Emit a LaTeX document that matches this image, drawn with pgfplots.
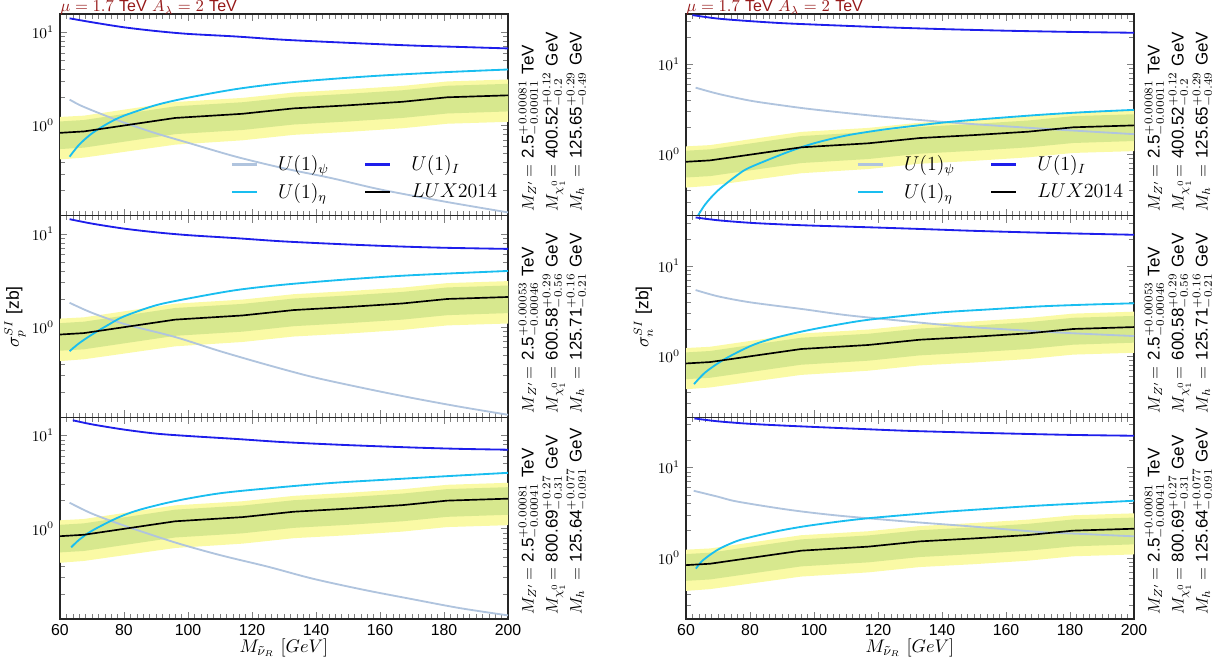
\documentclass[border=0pt]{standalone}
\usepackage{fontspec}
\setsansfont{Liberation Sans}
\usepackage{pgfplots}
\pgfplotsset{compat=1.18}

\definecolor{cpsi}{RGB}{176,196,222}
\definecolor{ceta}{RGB}{25,190,240}
\definecolor{cI}{RGB}{30,30,235}
\definecolor{cyel}{RGB}{250,250,165}
\definecolor{cgrn}{RGB}{215,232,142}
\definecolor{ctitle}{RGB}{150,25,25}

\pgfplotsset{
  every axis/.append style={
    scale only axis, width=268.8pt, height=121pt,
    xmin=60, xmax=200,
    xtick={60,80,...,200}, minor x tick num=9,
    tick align=inside, clip mode=individual,
    axis line style={line width=0.8pt, black!85},
    yticklabel style={font=\fontsize{9}{10}\selectfont},
    xticklabel style={font=\sffamily\fontsize{9.5}{11}\selectfont, /pgf/number format/assume math mode=true},
    anchor=south west,
  },
  mypsi/.style={cpsi, line width=1.1pt, smooth},
  myeta/.style={ceta, line width=1.1pt, smooth},
  myI/.style={cI, line width=1.1pt, smooth},
}

\newcommand{\bands}{%
  \addplot[fill=cyel, draw=none, forget plot] coordinates {(60,1.23)(67.5,1.27)(96,1.78)(117,1.97)(133,2.25)(150,2.43)(167,2.65)(181,2.96)(200,3.11)(200,1.09)(181,1.04)(167,0.93)(150,0.85)(133,0.79)(117,0.69)(96,0.62)(67.5,0.45)(60,0.43)};
  \addplot[fill=cgrn, draw=none, forget plot] coordinates {(60,1.10)(67.5,1.14)(96,1.60)(117,1.77)(133,2.02)(150,2.18)(167,2.38)(181,2.66)(200,2.79)(200,1.41)(181,1.34)(167,1.20)(150,1.10)(133,1.02)(117,0.891)(96,0.804)(67.5,0.576)(60,0.556)};
}
\newcommand{\lux}{\addplot[black, line width=1.0pt] coordinates {(60,0.83)(67.5,0.86)(96,1.2)(117,1.33)(133,1.52)(150,1.64)(167,1.79)(181,2.0)(200,2.1)};}

\newcommand{\masses}[4]{%
  \node[rotate=90, anchor=base west, inner sep=0pt, font=\fontsize{10.2}{12}\selectfont] at ([xshift=15.3pt,yshift=2.4pt]#1.south east)
    {\makebox[2.0em][l]{$M_{Z'}$}$=\ $\textsf{2.5}#2 \textsf{TeV}};
  \node[rotate=90, anchor=base west, inner sep=0pt, font=\fontsize{10.2}{12}\selectfont] at ([xshift=29.7pt,yshift=2.4pt]#1.south east)
    {\makebox[2.0em][l]{$M_{\chi_1^0}$}$=\ $#3};
  \node[rotate=90, anchor=base west, inner sep=0pt, font=\fontsize{10.2}{12}\selectfont] at ([xshift=44.1pt,yshift=2.4pt]#1.south east)
    {\makebox[2.0em][l]{$M_h$}$=\ $#4};
}

\newcommand{\legopts}{}
\begin{document}
\begin{tikzpicture}
\useasboundingbox (0,0) rectangle (733.2pt,399.6pt);

% ---------------- left column (proton)
\begin{semilogyaxis}[ymin=0.107, ymax=15.7, xticklabels={}, at={(36pt,270.2pt)}, name=LT,
    legend columns=2, legend cell align=left,
    legend image code/.code={\draw[#1, line width=1.4pt] (0pt,0pt) -- (15pt,0pt);},
    legend style={draw=none, fill=none, at={(0.995,0.04)}, anchor=south east,
      font=\fontsize{11.5}{13}\selectfont, row sep=2pt,
      /tikz/every even column/.append style={column sep=19pt},
      /tikz/every odd column/.append style={column sep=10pt}}]
\bands
\addplot[mypsi] coordinates {(63,1.89)(66,1.66)(70,1.45)(75,1.24)(80,1.07)(90,0.82)(100,0.65)(115,0.46)(130,0.345)(145,0.27)(160,0.205)(180,0.152)(200,0.116)};
\addlegendentry{$U(1)_\psi$}
\addplot[myI] coordinates {(63,14.1)(70,12.8)(80,11.3)(90,10.3)(100,9.6)(115,9.0)(130,8.3)(150,7.7)(170,7.2)(185,6.95)(200,6.7)};
\addlegendentry{$U(1)_I$}
\addplot[myeta] coordinates {(63,0.46)(66,0.62)(70,0.82)(75,1.05)(80,1.27)(90,1.65)(100,1.98)(115,2.45)(130,2.85)(145,3.15)(160,3.42)(180,3.72)(200,3.98)};
\addlegendentry{$U(1)_\eta$}
\lux
\addlegendentry{$LUX2014$}
\end{semilogyaxis}

\begin{semilogyaxis}[ymin=0.107, ymax=15.7, xticklabels={}, at={(36pt,149.2pt)}, name=LM]
\bands
\addplot[mypsi] coordinates {(63,1.82)(70,1.42)(80,1.08)(96,0.78)(110,0.55)(125,0.39)(139,0.29)(155,0.22)(170,0.173)(185,0.139)(200,0.114)};
\addplot[myI] coordinates {(63,14.4)(70,12.9)(80,11.4)(90,10.4)(100,9.7)(115,9.0)(130,8.3)(150,7.7)(165,7.35)(180,7.1)(200,6.9)};
\addplot[myeta] coordinates {(63,0.55)(66,0.67)(70,0.83)(75,1.05)(80,1.3)(90,1.71)(100,2.02)(115,2.49)(130,2.85)(150,3.25)(170,3.6)(200,4.0)};
\lux
\end{semilogyaxis}

\begin{semilogyaxis}[ymin=0.107, ymax=15.7, at={(36pt,28.2pt)}, name=LB]
\bands
\addplot[mypsi] coordinates {(63,1.9)(70,1.45)(80,1.08)(96,0.71)(110,0.52)(125,0.39)(139,0.29)(155,0.22)(170,0.175)(185,0.14)(200,0.117)};
\addplot[myI] coordinates {(64,14.6)(70,13.2)(80,11.6)(90,10.5)(100,9.9)(115,9.2)(130,8.5)(150,7.9)(170,7.45)(185,7.2)(200,7.05)};
\addplot[myeta] coordinates {(63.5,0.63)(66,0.76)(70,0.95)(78,1.31)(85,1.6)(96,1.98)(110,2.4)(127,2.75)(145,3.1)(164,3.39)(180,3.65)(200,3.98)};
\lux
\end{semilogyaxis}

% ---------------- right column (neutron)
\begin{semilogyaxis}[ymin=0.21, ymax=36, xticklabels={}, at={(411.6pt,270.2pt)}, name=RT,
    legend columns=2, legend cell align=left,
    legend image code/.code={\draw[#1, line width=1.4pt] (0pt,0pt) -- (15pt,0pt);},
    legend style={draw=none, fill=none, at={(0.995,0.04)}, anchor=south east,
      font=\fontsize{11.5}{13}\selectfont, row sep=2pt,
      /tikz/every even column/.append style={column sep=19pt},
      /tikz/every odd column/.append style={column sep=10pt}}]
\bands
\addplot[mypsi] coordinates {(63,5.5)(70,4.7)(80,3.95)(90,3.5)(100,3.15)(120,2.65)(140,2.3)(160,2.05)(180,1.85)(200,1.68)};
\addlegendentry{$U(1)_\psi$}
\addplot[myI] coordinates {(62,35)(70,32)(80,30)(90,28.5)(100,27.5)(120,25.8)(140,24.5)(160,23.5)(180,22.8)(200,22.3)};
\addlegendentry{$U(1)_I$}
\addplot[myeta] coordinates {(63,0.19)(66,0.28)(70,0.4)(76,0.59)(80,0.72)(92,1.07)(100,1.33)(110,1.62)(120,1.85)(128,2.01)(140,2.25)(150,2.42)(170,2.74)(185,2.95)(200,3.12)};
\addlegendentry{$U(1)_\eta$}
\lux
\addlegendentry{$LUX2014$}
\end{semilogyaxis}

\begin{semilogyaxis}[ymin=0.21, ymax=36, xticklabels={}, at={(411.6pt,149.2pt)}, name=RM]
\bands
\addplot[mypsi] coordinates {(63,5.4)(70,4.6)(80,3.95)(97,3.3)(110,2.85)(128,2.45)(145,2.15)(160,1.98)(180,1.8)(200,1.67)};
\addplot[myI] coordinates {(63,34.4)(70,32)(80,30)(90,28.8)(100,27.9)(118,26.7)(135,25.5)(149,24.5)(165,23.6)(180,22.9)(200,22.1)};
\addplot[myeta] coordinates {(62.5,0.49)(66,0.66)(71,0.88)(76,1.1)(81.4,1.35)(88,1.6)(97,1.9)(107,2.22)(117.8,2.55)(138.6,3.03)(155,3.3)(170,3.55)(185,3.72)(200,3.85)};
\lux
\end{semilogyaxis}

\begin{semilogyaxis}[ymin=0.21, ymax=36, at={(411.6pt,28.2pt)}, name=RB]
\bands
\addplot[mypsi] coordinates {(62.4,5.53)(70,4.75)(76,4.2)(92,3.41)(107,2.95)(128,2.54)(149,2.23)(170,1.94)(185,1.83)(200,1.73)};
\addplot[myI] coordinates {(62.6,35)(70,32.5)(80,30.5)(92,29)(110,27.2)(128,25.6)(145,24.6)(159,23.9)(180,23.0)(200,22.5)};
\addplot[myeta] coordinates {(63.1,0.76)(65,0.92)(68,1.11)(71,1.29)(76,1.54)(81.3,1.73)(89,1.99)(96.9,2.23)(107,2.5)(117.7,2.76)(138.6,3.19)(155,3.5)(169.8,3.78)(185,4.03)(200,4.29)};
\lux
\end{semilogyaxis}

% titles
\node[anchor=base west, inner sep=0pt, text=ctitle, font=\fontsize{9.6}{11}\selectfont] at ([yshift=1.4pt]LT.north west)
    {$\mu = 1.7$ \textsf{TeV} $A_\lambda = 2$ \textsf{TeV}};
\node[anchor=base west, inner sep=0pt, text=ctitle, font=\fontsize{9.6}{11}\selectfont] at ([yshift=1.4pt]RT.north west)
    {$\mu = 1.7$ \textsf{TeV} $A_\lambda = 2$ \textsf{TeV}};

% y labels
\node[rotate=90, font=\fontsize{10.5}{12}\selectfont] at (9pt,209.4pt) {$\sigma_p^{SI}$ \textsf{[zb]}};
\node[rotate=90, font=\fontsize{10.5}{12}\selectfont] at (386pt,209.4pt) {$\sigma_n^{SI}$ \textsf{[zb]}};

% x labels
\node[font=\fontsize{11}{13}\selectfont] at ([yshift=-17.4pt]LB.south) {$M_{\tilde{\nu}_R}\ [GeV]$};
\node[font=\fontsize{11}{13}\selectfont] at ([yshift=-17.4pt]RB.south) {$M_{\tilde{\nu}_R}\ [GeV]$};

% mass annotations
\masses{LT}{$^{+0.00081}_{-0.00011}$}{\textsf{400.52}$^{+0.12}_{-0.2}$ \textsf{GeV}}{\textsf{125.65}$^{+0.29}_{-0.49}$ \textsf{GeV}}
\masses{LM}{$^{+0.00053}_{-0.00046}$}{\textsf{600.58}$^{+0.29}_{-0.56}$ \textsf{GeV}}{\textsf{125.71}$^{+0.16}_{-0.21}$ \textsf{GeV}}
\masses{LB}{$^{+0.00081}_{-0.00041}$}{\textsf{800.69}$^{+0.27}_{-0.31}$ \textsf{GeV}}{\textsf{125.64}$^{+0.077}_{-0.091}$ \textsf{GeV}}
\masses{RT}{$^{+0.00081}_{-0.00011}$}{\textsf{400.52}$^{+0.12}_{-0.2}$ \textsf{GeV}}{\textsf{125.65}$^{+0.29}_{-0.49}$ \textsf{GeV}}
\masses{RM}{$^{+0.00053}_{-0.00046}$}{\textsf{600.58}$^{+0.29}_{-0.56}$ \textsf{GeV}}{\textsf{125.71}$^{+0.16}_{-0.21}$ \textsf{GeV}}
\masses{RB}{$^{+0.00081}_{-0.00041}$}{\textsf{800.69}$^{+0.27}_{-0.31}$ \textsf{GeV}}{\textsf{125.64}$^{+0.077}_{-0.091}$ \textsf{GeV}}
\end{tikzpicture}
\end{document}
